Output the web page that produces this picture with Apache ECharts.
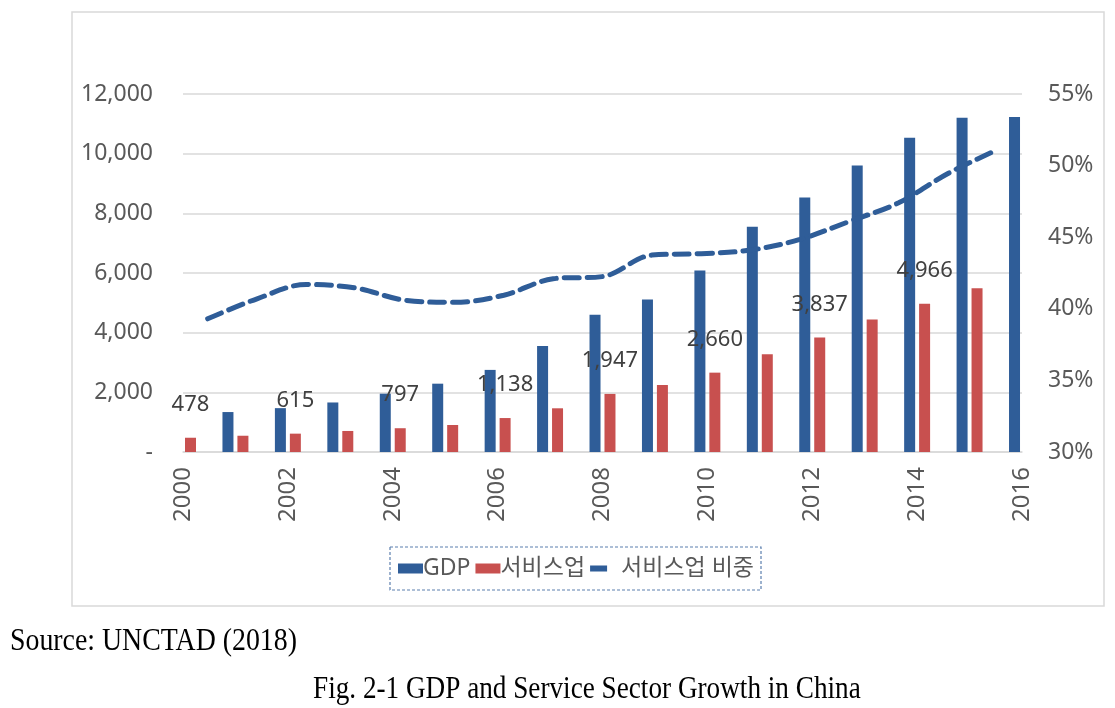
<!DOCTYPE html>
<html>
<head>
<meta charset="utf-8">
<title>GDP and Service Sector Growth in China</title>
<script src="https://cdn.jsdelivr.net/npm/echarts@6/dist/echarts.min.js"></script>
<style>
  html, body { margin: 0; padding: 0; background: #fff; }
  #main { width: 1115px; height: 708px; }
</style>
</head>
<body>
<div id="main"></div>
<script>
// 연도 (categories)
var years = ['2000', '2001', '2002', '2003', '2004', '2005', '2006', '2007', '2008',
  '2009', '2010', '2011', '2012', '2013', '2014', '2015', '2016'];
// GDP (billion USD) - 2000 bar is cut off at the plot edge in the picture
var gdp = [null, 1339, 1470, 1660, 1955, 2290, 2752, 3550, 4598,
  5110, 6087, 7552, 8532, 9600, 10530, 11200, 11230];
// 서비스업 - 2016 bar is cut off at the plot edge
var service = [478, 545, 615, 705, 797, 905, 1138, 1465, 1947,
  2245, 2660, 3275, 3837, 4445, 4966, 5490, null];
// 서비스업 비중 (%)
var serviceShare = [39.3, 40.7, 41.7, 41.45, 40.6, 40.45, 40.95, 42.1, 42.25,
  43.75, 43.85, 44.1, 44.85, 46.1, 47.4, 49.45, 51.1];

var blue = '#2f5d98';
var red = '#c8504f';
var axisText = '#595959';
var font = '"Noto Sans", "Noto Sans CJK KR", sans-serif';

var myChart = echarts.init(document.getElementById('main'));
myChart.setOption({
  animation: false,
  textStyle: { fontFamily: font },
  grid: { left: 183, right: 93, top: 94, bottom: 256, containLabel: false },
  legend: {
    left: 390,
    top: 547,
    padding: [10, 7, 10, 8],
    itemGap: 5,
    itemWidth: 25,
    itemHeight: 10,
    borderColor: '#5b7fae',
    borderWidth: 1.2,
    borderType: [3, 2],
    textStyle: { fontSize: 23, color: axisText, fontFamily: font, padding: [0, 0, 0, -5] },
    formatter: function (name) {
      return name === '서비스업 비중' ? ' ' + name : name;
    },
    data: [
      { name: 'GDP', icon: 'rect' },
      { name: '서비스업', icon: 'rect' },
      { name: '서비스업 비중', icon: 'path://M0,0h0.01v0.01h-0.01z M0,2h17v6h-17z M24.99,9.99h0.01v0.01h-0.01z' }
    ]
  },
  xAxis: [{
    type: 'category',
    data: years,
    boundaryGap: false,
    axisLine: { show: true, lineStyle: { color: '#d9d9d9', width: 1.5 } },
    axisTick: { show: false },
    axisLabel: { rotate: 90, interval: 1, margin: 15, fontSize: 24, color: axisText }
  }, {
    type: 'category',
    data: years,
    boundaryGap: true,
    show: false
  }],
  yAxis: [{
    type: 'value',
    min: 0,
    max: 12000,
    interval: 2000,
    axisLine: { show: false },
    axisTick: { show: false },
    splitLine: { lineStyle: { color: '#d9d9d9', width: 1.5 } },
    axisLabel: {
      margin: 30,
      fontSize: 23,
      color: axisText,
      formatter: function (v) { return v === 0 ? '-' : v.toLocaleString('en-US'); }
    }
  }, {
    type: 'value',
    min: 30,
    max: 55,
    interval: 5,
    axisLine: { show: false },
    axisTick: { show: false },
    splitLine: { show: false },
    axisLabel: { margin: 26, fontSize: 23, color: axisText, formatter: '{value}%' }
  }],
  series: [{
    name: 'GDP',
    type: 'bar',
    data: gdp,
    barWidth: 11,
    barGap: '36%',
    itemStyle: { color: blue }
  }, {
    name: '서비스업',
    type: 'bar',
    data: service,
    barWidth: 11,
    itemStyle: { color: red },
    label: {
      show: true,
      position: 'top',
      distance: 22,
      fontSize: 22,
      color: '#404040',
      formatter: function (p) {
        return p.dataIndex % 2 === 0 ? p.value.toLocaleString('en-US') : '';
      }
    }
  }, {
    name: '서비스업 비중',
    type: 'line',
    xAxisIndex: 1,
    yAxisIndex: 1,
    data: serviceShare,
    smooth: 0.35,
    symbol: 'none',
    z: 5,
    lineStyle: { color: blue, width: 5, type: [15, 8], cap: 'round' },
    itemStyle: { color: blue }
  }],
  graphic: [{
    type: 'rect',
    shape: { x: 72, y: 12, width: 1032, height: 594 },
    style: { fill: 'none', stroke: '#d9d9d9', lineWidth: 1.5 },
    silent: true
  }, {
    type: 'text',
    x: 10,
    y: 626,
    scaleX: 0.87,
    style: {
      text: 'Source: UNCTAD (2018)', fill: '#000',
      font: '32px "Liberation Serif", serif', verticalAlign: 'top'
    }
  }, {
    type: 'text',
    x: 313,
    y: 674,
    scaleX: 0.85,
    style: {
      text: 'Fig. 2-1 GDP and Service Sector Growth in China', fill: '#000',
      font: '32px "Liberation Serif", serif', verticalAlign: 'top'
    }
  }]
});
</script>
</body>
</html>
